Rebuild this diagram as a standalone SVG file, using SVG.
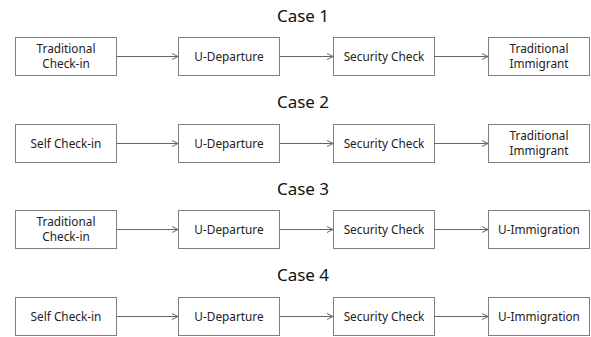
<svg xmlns="http://www.w3.org/2000/svg" width="591" height="337" viewBox="0 0 591 337">
<style>
.box{fill:#fff;stroke:#7f7f7f;stroke-width:1}
.t{font-family:"Noto Sans","Open Sans",sans-serif;font-size:11.8px;fill:#222;text-anchor:middle}
.h{font-family:"Noto Sans","Open Sans",sans-serif;font-size:17px;fill:#111;text-anchor:middle}
.c{stroke:#666;stroke-width:1;fill:none;marker-end:url(#a)}
</style>
<defs>
<marker id="a" markerWidth="8" markerHeight="8" refX="7" refY="4" orient="auto" markerUnits="userSpaceOnUse">
<path d="M1,1 L7,4 L1,7" fill="none" stroke="#666" stroke-width="1"/>
</marker>
</defs>
<rect width="591" height="337" fill="#fff"/>
<text class="h" x="303" y="22">Case 1</text>
<text class="h" x="303" y="108">Case 2</text>
<text class="h" x="303" y="195">Case 3</text>
<text class="h" x="303" y="281">Case 4</text>
<g id="r1n1"><rect class="box" x="15.5" y="37.5" width="101" height="38"/><text class="t" x="66" y="52.5">Traditional</text><text class="t" x="66" y="68">Check-in</text></g>
<g id="r1n2"><rect class="box" x="178.5" y="37.5" width="101" height="38"/><text class="t" x="229" y="60.5">U-Departure</text></g>
<g id="r1n3"><rect class="box" x="333.5" y="37.5" width="101" height="38"/><text class="t" x="384" y="60.5">Security Check</text></g>
<g id="r1n4"><rect class="box" x="488.5" y="37.5" width="101" height="38"/><text class="t" x="539" y="52.5">Traditional</text><text class="t" x="539" y="68">Immigrant</text></g>
<g id="r2n1"><rect class="box" x="15.5" y="124.5" width="101" height="38"/><text class="t" x="66" y="147.5">Self Check-in</text></g>
<g id="r2n2"><rect class="box" x="178.5" y="124.5" width="101" height="38"/><text class="t" x="229" y="147.5">U-Departure</text></g>
<g id="r2n3"><rect class="box" x="333.5" y="124.5" width="101" height="38"/><text class="t" x="384" y="147.5">Security Check</text></g>
<g id="r2n4"><rect class="box" x="488.5" y="124.5" width="101" height="38"/><text class="t" x="539" y="139.5">Traditional</text><text class="t" x="539" y="155">Immigrant</text></g>
<g id="r3n1"><rect class="box" x="15.5" y="210.5" width="101" height="38"/><text class="t" x="66" y="225.5">Traditional</text><text class="t" x="66" y="241">Check-in</text></g>
<g id="r3n2"><rect class="box" x="178.5" y="210.5" width="101" height="38"/><text class="t" x="229" y="233.5">U-Departure</text></g>
<g id="r3n3"><rect class="box" x="333.5" y="210.5" width="101" height="38"/><text class="t" x="384" y="233.5">Security Check</text></g>
<g id="r3n4"><rect class="box" x="488.5" y="210.5" width="101" height="38"/><text class="t" x="539" y="233.5">U-Immigration</text></g>
<g id="r4n1"><rect class="box" x="15.5" y="297.5" width="101" height="38"/><text class="t" x="66" y="320.5">Self Check-in</text></g>
<g id="r4n2"><rect class="box" x="178.5" y="297.5" width="101" height="38"/><text class="t" x="229" y="320.5">U-Departure</text></g>
<g id="r4n3"><rect class="box" x="333.5" y="297.5" width="101" height="38"/><text class="t" x="384" y="320.5">Security Check</text></g>
<g id="r4n4"><rect class="box" x="488.5" y="297.5" width="101" height="38"/><text class="t" x="539" y="320.5">U-Immigration</text></g>
<g id="connectors">
<path class="c" d="M116.5,56.5 H178"/><path class="c" d="M279.5,56.5 H333"/><path class="c" d="M434.5,56.5 H488"/>
<path class="c" d="M116.5,143.5 H178"/><path class="c" d="M279.5,143.5 H333"/><path class="c" d="M434.5,143.5 H488"/>
<path class="c" d="M116.5,229.5 H178"/><path class="c" d="M279.5,229.5 H333"/><path class="c" d="M434.5,229.5 H488"/>
<path class="c" d="M116.5,316.5 H178"/><path class="c" d="M279.5,316.5 H333"/><path class="c" d="M434.5,316.5 H488"/>
</g>
</svg>
